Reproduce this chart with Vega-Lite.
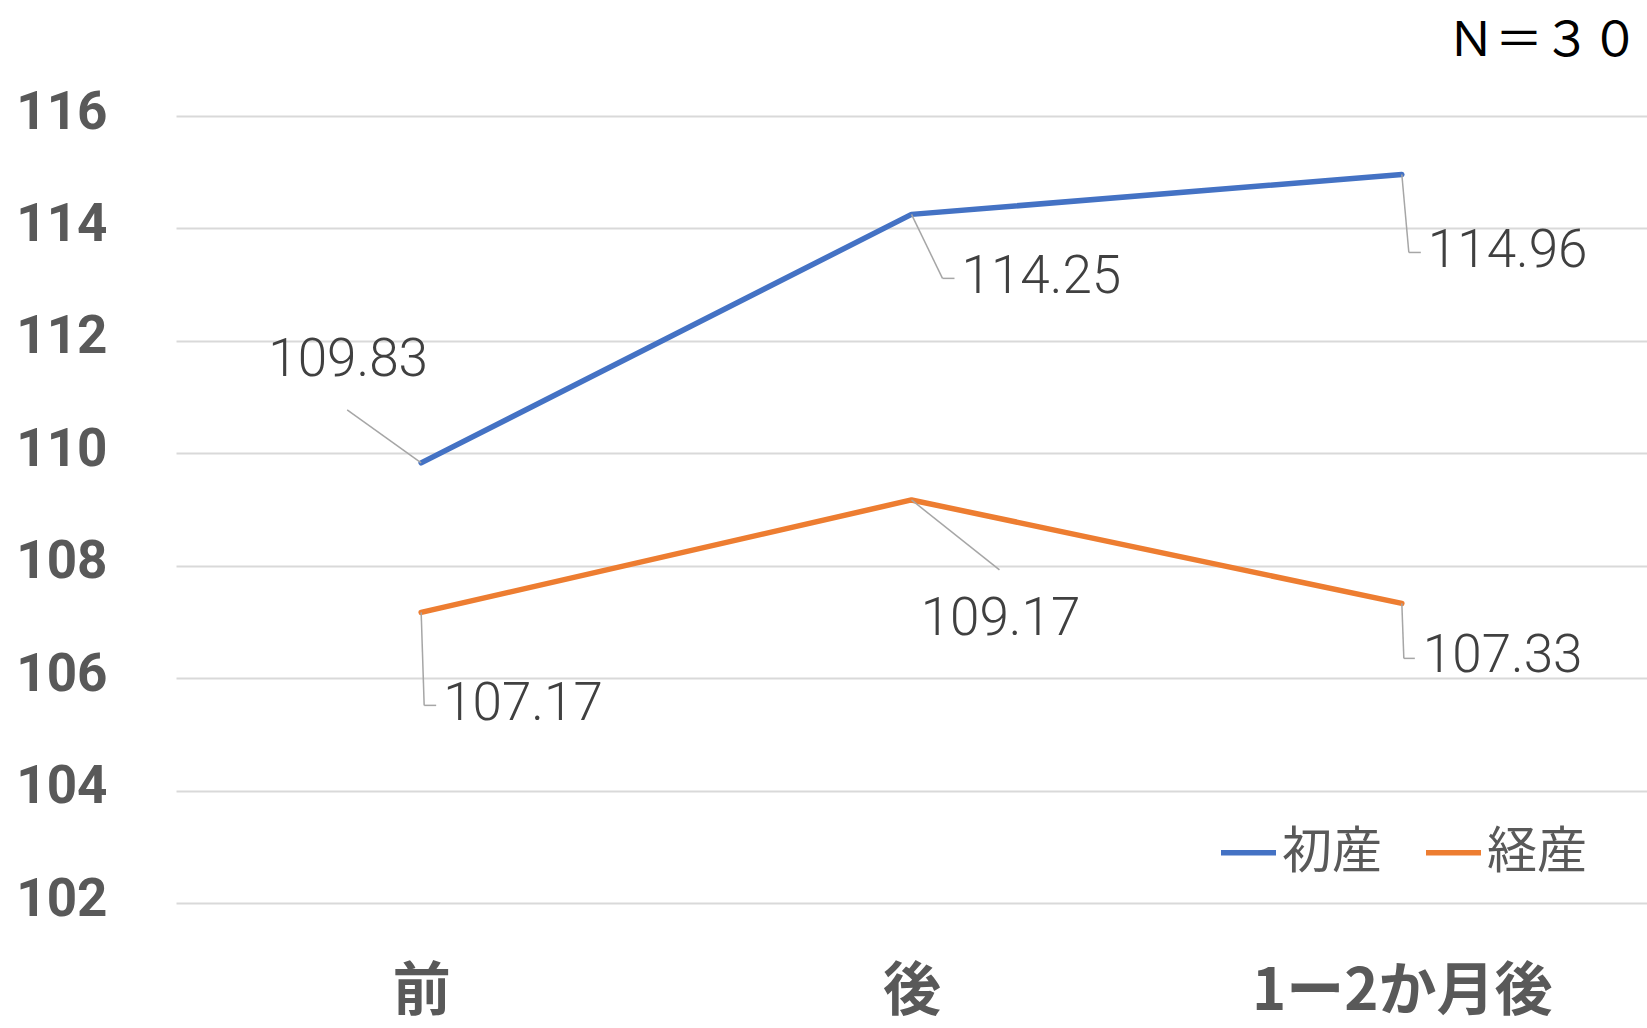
{
  "$schema": "https://vega.github.io/schema/vega-lite/v6.json",
  "width": 1471,
  "height": 787,
  "autosize": {"type": "none"},
  "padding": {"left": 176, "top": 116, "right": 0, "bottom": 125},
  "background": "#ffffff",
  "title": {
    "text": "Ｎ＝３０",
    "anchor": "end",
    "frame": "group",
    "orient": "top",
    "offset": 20,
    "dx": -8,
    "font": "Noto Sans CJK JP",
    "fontSize": 48,
    "fontWeight": "normal",
    "color": "#000000"
  },
  "data": {
    "values": [
      {"時期": "前", "区分": "初産", "値": 109.83},
      {"時期": "後", "区分": "初産", "値": 114.25},
      {"時期": "1ー2か月後", "区分": "初産", "値": 114.96},
      {"時期": "前", "区分": "経産", "値": 107.17},
      {"時期": "後", "区分": "経産", "値": 109.17},
      {"時期": "1ー2か月後", "区分": "経産", "値": 107.33}
    ]
  },
  "encoding": {
    "x": {
      "field": "時期",
      "type": "nominal",
      "sort": ["前", "後", "1ー2か月後"],
      "scale": {"type": "point", "padding": 0.5},
      "axis": {
        "title": null,
        "domain": false,
        "ticks": false,
        "grid": false,
        "labelAngle": 0,
        "labelLimit": 0,
        "labelFont": "Noto Sans CJK JP",
        "labelFontSize": 58,
        "labelFontWeight": "bold",
        "labelColor": "#595959",
        "labelPadding": 60
      }
    },
    "y": {
      "field": "値",
      "type": "quantitative",
      "scale": {"domain": [102, 116], "nice": false, "zero": false},
      "axis": {
        "title": null,
        "values": [102, 104, 106, 108, 110, 112, 114, 116],
        "domain": false,
        "ticks": false,
        "grid": true,
        "gridColor": "#D9D9D9",
        "gridWidth": 2,
        "labelFont": "Roboto",
        "labelFontSize": 53,
        "labelFontWeight": "bold",
        "labelColor": "#595959",
        "labelPadding": 69,
        "labelOffset": -4
      }
    }
  },
  "layer": [
    {
      "mark": {"type": "line", "strokeWidth": 5.5, "strokeCap": "round", "strokeJoin": "round"},
      "encoding": {
        "color": {
          "field": "区分",
          "type": "nominal",
          "scale": {"domain": ["初産", "経産"], "range": ["#4472C4", "#ED7D31"]},
          "legend": {
            "orient": "none",
            "legendX": 1042,
            "legendY": 706,
            "direction": "horizontal",
            "title": null,
            "symbolType": "stroke",
            "symbolSize": 3025,
            "symbolStrokeWidth": 5.5,
            "labelFont": "Noto Sans CJK JP",
            "labelFontSize": 50,
            "labelColor": "#595959",
            "labelOffset": 3,
            "columnPadding": 33
          }
        }
      }
    },
    {
      "transform": [{"filter": {"and": [{"field": "区分", "equal": "初産"}, {"field": "時期", "equal": "前"}]}}],
      "layer": [
        {"mark": {"type": "rule", "color": "#A6A6A6", "strokeWidth": 1.5, "x2Offset": -74, "y2Offset": -53}, "encoding": {"x2": {"field": "時期"}, "y2": {"field": "値"}}},
        {"mark": {"type": "text", "align": "center", "baseline": "middle", "dx": -73, "dy": -103, "font": "Roboto", "fontWeight": 300, "fontSize": 53, "color": "#404040"}, "encoding": {"text": {"field": "値", "type": "quantitative", "format": ".2f"}}}
      ]
    },
    {
      "transform": [{"filter": {"and": [{"field": "区分", "equal": "初産"}, {"field": "時期", "equal": "後"}]}}],
      "layer": [
        {"mark": {"type": "rule", "color": "#A6A6A6", "strokeWidth": 1.5, "x2Offset": 31, "y2Offset": 64}, "encoding": {"x2": {"field": "時期"}, "y2": {"field": "値"}}},
        {"mark": {"type": "rule", "color": "#A6A6A6", "strokeWidth": 1.5, "xOffset": 31, "yOffset": 64, "x2Offset": 43, "y2Offset": 64}, "encoding": {"x2": {"field": "時期"}, "y2": {"field": "値"}}},
        {"mark": {"type": "text", "align": "left", "baseline": "middle", "dx": 50, "dy": 63, "font": "Roboto", "fontWeight": 300, "fontSize": 53, "color": "#404040"}, "encoding": {"text": {"field": "値", "type": "quantitative", "format": ".2f"}}}
      ]
    },
    {
      "transform": [{"filter": {"and": [{"field": "区分", "equal": "初産"}, {"field": "時期", "equal": "1ー2か月後"}]}}],
      "layer": [
        {"mark": {"type": "rule", "color": "#A6A6A6", "strokeWidth": 1.5, "x2Offset": 7, "y2Offset": 78}, "encoding": {"x2": {"field": "時期"}, "y2": {"field": "値"}}},
        {"mark": {"type": "rule", "color": "#A6A6A6", "strokeWidth": 1.5, "xOffset": 7, "yOffset": 78, "x2Offset": 19, "y2Offset": 78}, "encoding": {"x2": {"field": "時期"}, "y2": {"field": "値"}}},
        {"mark": {"type": "text", "align": "left", "baseline": "middle", "dx": 26, "dy": 77, "font": "Roboto", "fontWeight": 300, "fontSize": 53, "color": "#404040"}, "encoding": {"text": {"field": "値", "type": "quantitative", "format": ".2f"}}}
      ]
    },
    {
      "transform": [{"filter": {"and": [{"field": "区分", "equal": "経産"}, {"field": "時期", "equal": "前"}]}}],
      "layer": [
        {"mark": {"type": "rule", "color": "#A6A6A6", "strokeWidth": 1.5, "x2Offset": 3, "y2Offset": 93}, "encoding": {"x2": {"field": "時期"}, "y2": {"field": "値"}}},
        {"mark": {"type": "rule", "color": "#A6A6A6", "strokeWidth": 1.5, "xOffset": 3, "yOffset": 93, "x2Offset": 15, "y2Offset": 93}, "encoding": {"x2": {"field": "時期"}, "y2": {"field": "値"}}},
        {"mark": {"type": "text", "align": "left", "baseline": "middle", "dx": 22, "dy": 92, "font": "Roboto", "fontWeight": 300, "fontSize": 53, "color": "#404040"}, "encoding": {"text": {"field": "値", "type": "quantitative", "format": ".2f"}}}
      ]
    },
    {
      "transform": [{"filter": {"and": [{"field": "区分", "equal": "経産"}, {"field": "時期", "equal": "後"}]}}],
      "layer": [
        {"mark": {"type": "rule", "color": "#A6A6A6", "strokeWidth": 1.5, "x2Offset": 88, "y2Offset": 70}, "encoding": {"x2": {"field": "時期"}, "y2": {"field": "値"}}},
        {"mark": {"type": "text", "align": "center", "baseline": "middle", "dx": 89, "dy": 119, "font": "Roboto", "fontWeight": 300, "fontSize": 53, "color": "#404040"}, "encoding": {"text": {"field": "値", "type": "quantitative", "format": ".2f"}}}
      ]
    },
    {
      "transform": [{"filter": {"and": [{"field": "区分", "equal": "経産"}, {"field": "時期", "equal": "1ー2か月後"}]}}],
      "layer": [
        {"mark": {"type": "rule", "color": "#A6A6A6", "strokeWidth": 1.5, "x2Offset": 2, "y2Offset": 55}, "encoding": {"x2": {"field": "時期"}, "y2": {"field": "値"}}},
        {"mark": {"type": "rule", "color": "#A6A6A6", "strokeWidth": 1.5, "xOffset": 2, "yOffset": 55, "x2Offset": 13, "y2Offset": 55}, "encoding": {"x2": {"field": "時期"}, "y2": {"field": "値"}}},
        {"mark": {"type": "text", "align": "left", "baseline": "middle", "dx": 21, "dy": 53, "font": "Roboto", "fontWeight": 300, "fontSize": 53, "color": "#404040"}, "encoding": {"text": {"field": "値", "type": "quantitative", "format": ".2f"}}}
      ]
    }
  ],
  "config": {
    "view": {"stroke": null}
  }
}
